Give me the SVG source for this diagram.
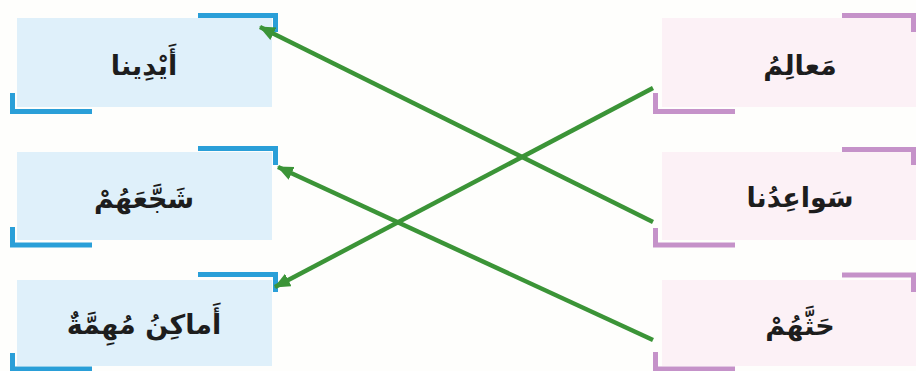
<svg xmlns="http://www.w3.org/2000/svg" width="916" height="371" viewBox="0 0 916 371">
<defs>
<style>
.lf{fill:#dff0fa}
.rf{fill:#fcf1f6}
.lb{fill:none;stroke:#2a9fd8;stroke-width:5}
.rb{fill:none;stroke:#c592c9;stroke-width:5}
.t{font-family:"DejaVu Sans","Noto Sans",sans-serif;font-size:27px;font-weight:bold;fill:#1d1d1d;text-anchor:middle;direction:rtl}
.c{fill:none;stroke:#3b9437;stroke-width:4.5}
</style>
<marker id="ah" markerUnits="userSpaceOnUse" markerWidth="18" markerHeight="16" refX="15" refY="7" orient="auto">
<path d="M0,0 L16,7 L0,14 Z" fill="#3b9437"/>
</marker>
</defs>
<rect width="916" height="371" fill="#fefefc"/>
<g id="left1">
<rect class="lf" x="17" y="18" width="255" height="89"/>
<path class="lb" d="M198,15.5 H275.5 V32"/>
<path class="lb" d="M12.5,93 V111.5 H92"/>
<text class="t" x="144" y="75">أَيْدِينا</text>
</g>
<g id="left2">
<rect class="lf" x="17" y="152" width="255" height="88"/>
<path class="lb" d="M198,148.5 H275.5 V165"/>
<path class="lb" d="M12.5,227 V245 H92"/>
<text class="t" x="144" y="208">شَجَّعَهُمْ</text>
</g>
<g id="left3">
<rect class="lf" x="17" y="280" width="255" height="86"/>
<path class="lb" d="M198,274.5 H275.5 V292"/>
<path class="lb" d="M12.5,353 V369 H92"/>
<text class="t" x="144" y="334">أَماكِنُ مُهِمَّةٌ</text>
</g>
<g id="right1">
<rect class="rf" x="662" y="18" width="254" height="89"/>
<path class="rb" d="M842,15.5 H913.5 V32"/>
<path class="rb" d="M655.5,93 V111.5 H735"/>
<text class="t" x="800" y="75">مَعالِمُ</text>
</g>
<g id="right2">
<rect class="rf" x="662" y="152" width="254" height="88"/>
<path class="rb" d="M842,149.5 H913.5 V165"/>
<path class="rb" d="M655.5,228 V245 H735"/>
<text class="t" x="800" y="207">سَواعِدُنا</text>
</g>
<g id="right3">
<rect class="rf" x="662" y="280" width="254" height="86"/>
<path class="rb" d="M842,275 H913.5 V292"/>
<path class="rb" d="M655.5,352 V369 H735"/>
<text class="t" x="800" y="335">حَثَّهُمْ</text>
</g>
<g id="connectors">
<line class="c" x1="653" y1="222" x2="260" y2="27" marker-end="url(#ah)"/>
<line class="c" x1="653" y1="340" x2="278" y2="167" marker-end="url(#ah)"/>
<line class="c" x1="653" y1="88" x2="275" y2="287" marker-end="url(#ah)"/>
</g>
</svg>
